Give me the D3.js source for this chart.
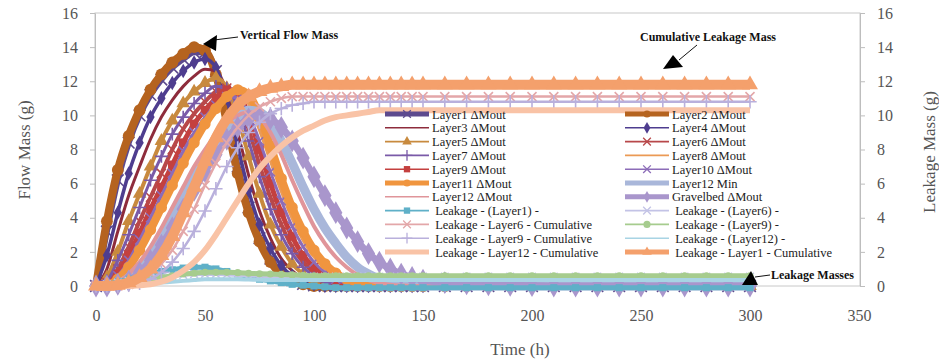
<!DOCTYPE html>
<html>
<head>
<meta charset="utf-8">
<script src="https://cdn.jsdelivr.net/npm/d3@7"></script>
<style>
  body { margin: 0; background: #fff; }
  svg { display: block; }
  text { font-family: "Liberation Serif", "Times New Roman", serif; }
</style>
</head>
<body>
<svg id="chart" width="939" height="362"></svg>
<script>
// time (h): 5 h steps to 150, then 10 h steps to 300
const hours = [0, 5, 10, 15, 20, 25, 30, 35, 40, 45, 50, 55, 60, 65, 70, 75, 80, 85, 90, 95, 100, 105, 110, 115, 120, 125, 130, 135, 140, 145, 150,
  160, 170, 180, 190, 200, 210, 220, 230, 240, 250, 260, 270, 280, 290, 300];

// vertical flow mass (g), left axis
const layer1 = [0, 3.2, 6.2, 8.4, 10.0, 11.2, 12.1, 12.8, 13.3, 13.7, 13.7, 12.6, 10.0, 7.0, 4.6, 2.8, 1.6, 0.8, 0.35, 0.12, 0.03, 0, 0, 0, 0, 0, 0, 0, 0, 0, 0,
  0, 0, 0, 0, 0, 0, 0, 0, 0, 0, 0, 0, 0, 0, 0];
const layer2 = [0, 3.8, 6.8, 8.8, 10.3, 11.5, 12.4, 13.1, 13.6, 14.0, 13.8, 12.4, 9.6, 6.6, 4.3, 2.6, 1.4, 0.7, 0.3, 0.1, 0, 0, 0, 0, 0, 0, 0, 0, 0, 0, 0,
  0, 0, 0, 0, 0, 0, 0, 0, 0, 0, 0, 0, 0, 0, 0];
const layer3 = [0, 1.0, 3.2, 5.3, 7.0, 8.6, 9.9, 10.9, 11.7, 12.3, 12.7, 12.6, 11.4, 9.0, 6.5, 4.4, 2.8, 1.6, 0.9, 0.4, 0.15, 0.05, 0, 0, 0, 0, 0, 0, 0, 0, 0,
  0, 0, 0, 0, 0, 0, 0, 0, 0, 0, 0, 0, 0, 0, 0];
const layer4 = [0, 1.8, 4.3, 6.6, 8.4, 9.9, 11.0, 11.9, 12.6, 13.1, 13.3, 12.8, 11.0, 8.2, 5.6, 3.6, 2.2, 1.2, 0.6, 0.25, 0.08, 0, 0, 0, 0, 0, 0, 0, 0, 0, 0,
  0, 0, 0, 0, 0, 0, 0, 0, 0, 0, 0, 0, 0, 0, 0];
const layer5 = [0, 0.5, 2.0, 3.8, 5.4, 7.0, 8.5, 9.7, 10.7, 11.4, 11.9, 12.2, 11.6, 9.9, 7.6, 5.4, 3.6, 2.3, 1.3, 0.7, 0.3, 0.1, 0.03, 0, 0, 0, 0, 0, 0, 0, 0,
  0, 0, 0, 0, 0, 0, 0, 0, 0, 0, 0, 0, 0, 0, 0];
const layer6 = [0, 0.2, 1.0, 2.3, 3.8, 5.2, 6.6, 8.0, 9.2, 10.1, 10.8, 11.4, 11.6, 10.9, 9.2, 7.1, 5.2, 3.6, 2.3, 1.4, 0.8, 0.4, 0.15, 0.05, 0, 0, 0, 0, 0, 0, 0,
  0, 0, 0, 0, 0, 0, 0, 0, 0, 0, 0, 0, 0, 0, 0];
const layer7 = [0, 0.3, 1.5, 3.0, 4.6, 6.2, 7.6, 8.9, 9.9, 10.7, 11.3, 11.7, 11.6, 10.5, 8.5, 6.4, 4.5, 3.0, 1.9, 1.1, 0.6, 0.25, 0.1, 0, 0, 0, 0, 0, 0, 0, 0,
  0, 0, 0, 0, 0, 0, 0, 0, 0, 0, 0, 0, 0, 0, 0];
const layer8 = [0, 0.1, 0.5, 1.3, 2.4, 3.6, 4.9, 6.2, 7.5, 8.7, 9.7, 10.6, 11.3, 11.5, 10.8, 9.3, 7.5, 5.7, 4.1, 2.8, 1.8, 1.1, 0.6, 0.3, 0.1, 0.03, 0, 0, 0, 0, 0,
  0, 0, 0, 0, 0, 0, 0, 0, 0, 0, 0, 0, 0, 0, 0];
const layer9 = [0, 0.1, 0.7, 1.8, 3.1, 4.5, 5.8, 7.1, 8.4, 9.5, 10.3, 11.0, 11.5, 11.3, 10.0, 8.0, 6.0, 4.3, 2.9, 1.8, 1.1, 0.6, 0.3, 0.1, 0.03, 0, 0, 0, 0, 0, 0,
  0, 0, 0, 0, 0, 0, 0, 0, 0, 0, 0, 0, 0, 0, 0];
const layer10 = [0, 0.1, 0.6, 1.5, 2.7, 4.0, 5.3, 6.6, 7.9, 9.0, 9.9, 10.6, 11.1, 11.0, 10.1, 8.5, 6.7, 5.0, 3.5, 2.3, 1.4, 0.8, 0.4, 0.15, 0.05, 0, 0, 0, 0, 0, 0,
  0, 0, 0, 0, 0, 0, 0, 0, 0, 0, 0, 0, 0, 0, 0];
const layer11 = [0, 0.05, 0.4, 1.1, 2.1, 3.3, 4.6, 5.9, 7.2, 8.4, 9.5, 10.4, 11.1, 11.5, 11.2, 10.0, 8.2, 6.3, 4.6, 3.2, 2.1, 1.3, 0.75, 0.4, 0.18, 0.07, 0, 0, 0, 0, 0,
  0, 0, 0, 0, 0, 0, 0, 0, 0, 0, 0, 0, 0, 0, 0];
const layer12Min = [0, 0, 0.1, 0.5, 1.1, 1.9, 2.9, 4.0, 5.2, 6.4, 7.5, 8.5, 9.3, 9.9, 10.3, 10.2, 9.6, 8.5, 7.2, 5.8, 4.5, 3.4, 2.5, 1.7, 1.1, 0.7, 0.4, 0.2, 0.1, 0.04, 0,
  0, 0, 0, 0, 0, 0, 0, 0, 0, 0, 0, 0, 0, 0, 0];
const layer12 = [0, 0, 0.2, 0.7, 1.4, 2.3, 3.4, 4.6, 5.8, 7.0, 8.0, 8.9, 9.6, 10.0, 10.2, 9.9, 9.0, 7.7, 6.2, 4.8, 3.5, 2.5, 1.7, 1.1, 0.65, 0.35, 0.18, 0.08, 0.03, 0, 0,
  0, 0, 0, 0, 0, 0, 0, 0, 0, 0, 0, 0, 0, 0, 0];
const gravelbed = [0, 0, 0.1, 0.3, 0.8, 1.5, 2.4, 3.4, 4.5, 5.6, 6.7, 7.7, 8.6, 9.3, 9.8, 10.0, 9.8, 9.3, 8.5, 7.5, 6.4, 5.3, 4.3, 3.4, 2.6, 1.9, 1.4, 1.0, 0.7, 0.5, 0.35,
  0.2, 0.12, 0.07, 0.04, 0.02, 0, 0, 0, 0, 0, 0, 0, 0, 0, 0];

// leakage mass (g), right axis
const leakL1 = [0, 0.1, 0.25, 0.4, 0.55, 0.7, 0.85, 0.95, 1.05, 1.1, 1.1, 1.0, 0.85, 0.7, 0.55, 0.4, 0.3, 0.2, 0.1, 0.05, 0, -0.05, -0.1, -0.1, -0.1, -0.1, -0.1, -0.1, -0.1, -0.1, -0.1,
  -0.1, -0.1, -0.1, -0.1, -0.1, -0.1, -0.1, -0.1, -0.1, -0.1, -0.1, -0.1, -0.1, -0.1, -0.1];
const leakL6 = [0, 0.1, 0.2, 0.3, 0.4, 0.5, 0.55, 0.6, 0.65, 0.7, 0.7, 0.7, 0.68, 0.65, 0.62, 0.6, 0.58, 0.56, 0.55, 0.55, 0.55, 0.55, 0.55, 0.55, 0.55, 0.55, 0.55, 0.55, 0.55, 0.55, 0.55,
  0.55, 0.55, 0.55, 0.55, 0.55, 0.55, 0.55, 0.55, 0.55, 0.55, 0.55, 0.55, 0.55, 0.55, 0.55];
const leakL6Cum = [0, 0, 0, 0.1, 0.3, 0.7, 1.3, 2.1, 3.2, 4.5, 5.9, 7.2, 8.4, 9.3, 10.0, 10.5, 10.8, 11.0, 11.1, 11.1, 11.1, 11.1, 11.1, 11.1, 11.1, 11.1, 11.1, 11.1, 11.1, 11.1, 11.1,
  11.1, 11.1, 11.1, 11.1, 11.1, 11.1, 11.1, 11.1, 11.1, 11.1, 11.1, 11.1, 11.1, 11.1, 11.1];
const leakL9 = [0, 0.05, 0.1, 0.2, 0.3, 0.4, 0.5, 0.6, 0.7, 0.75, 0.8, 0.8, 0.8, 0.78, 0.75, 0.72, 0.7, 0.68, 0.65, 0.62, 0.6, 0.6, 0.6, 0.6, 0.6, 0.6, 0.6, 0.6, 0.6, 0.6, 0.6,
  0.6, 0.6, 0.6, 0.6, 0.6, 0.6, 0.6, 0.6, 0.6, 0.6, 0.6, 0.6, 0.6, 0.6, 0.6];
const leakL9Cum = [0, 0, 0, 0.05, 0.15, 0.4, 0.8, 1.4, 2.2, 3.2, 4.4, 5.7, 7.0, 8.1, 9.0, 9.6, 10.1, 10.4, 10.6, 10.7, 10.8, 10.8, 10.8, 10.8, 10.8, 10.8, 10.8, 10.8, 10.8, 10.8, 10.8,
  10.8, 10.8, 10.8, 10.8, 10.8, 10.8, 10.8, 10.8, 10.8, 10.8, 10.8, 10.8, 10.8, 10.8, 10.8];
const leakL12 = [0, 0, 0, 0.05, 0.1, 0.15, 0.2, 0.25, 0.3, 0.35, 0.4, 0.4, 0.4, 0.4, 0.38, 0.36, 0.35, 0.35, 0.35, 0.35, 0.35, 0.35, 0.35, 0.35, 0.35, 0.35, 0.35, 0.35, 0.35, 0.35, 0.35,
  0.35, 0.35, 0.35, 0.35, 0.35, 0.35, 0.35, 0.35, 0.35, 0.35, 0.35, 0.35, 0.35, 0.35, 0.35];
const leakL12Cum = [0, 0, 0, 0, 0.05, 0.1, 0.25, 0.5, 0.9, 1.4, 2.1, 3.0, 4.0, 5.0, 6.0, 6.9, 7.6, 8.2, 8.7, 9.1, 9.4, 9.7, 9.9, 10.0, 10.1, 10.2, 10.3, 10.3, 10.3, 10.3, 10.3,
  10.3, 10.3, 10.3, 10.3, 10.3, 10.3, 10.3, 10.3, 10.3, 10.3, 10.3, 10.3, 10.3, 10.3, 10.3];
const leakL1Cum = [0, 0, 0.05, 0.2, 0.5, 1.0, 1.8, 2.9, 4.3, 5.8, 7.3, 8.7, 9.8, 10.6, 11.1, 11.4, 11.6, 11.7, 11.8, 11.8, 11.8, 11.8, 11.8, 11.8, 11.8, 11.8, 11.8, 11.8, 11.8, 11.8, 11.8,
  11.8, 11.8, 11.8, 11.8, 11.8, 11.8, 11.8, 11.8, 11.8, 11.8, 11.8, 11.8, 11.8, 11.8, 11.8];

const xTicks = [0, 50, 100, 150, 200, 250, 300, 350];
const yTicks = [0, 2, 4, 6, 8, 10, 12, 14, 16];

// series in legend order (row by row, two columns)
const series = [
  { name: 'Layer1 ΔMout', values: layer1, color: '#5d4a8e', width: 6, marker: 'times', size: 90, right: false },
  { name: 'Layer2 ΔMout', values: layer2, color: '#b5631f', width: 8, marker: 'circle', size: 110, right: false },
  { name: 'Layer3 ΔMout', values: layer3, color: '#8e2c3c', width: 3, marker: null, right: false },
  { name: 'Layer4 ΔMout', values: layer4, color: '#4e3d8f', width: 3.5, marker: 'diamond', size: 60, right: false },
  { name: 'Layer5 ΔMout', values: layer5, color: '#c88a3e', width: 4, marker: 'triangle', size: 80, right: false },
  { name: 'Layer6 ΔMout', values: layer6, color: '#b8484a', width: 4, marker: 'times', size: 55, right: false },
  { name: 'Layer7 ΔMout', values: layer7, color: '#7a5aa8', width: 3, marker: 'plus', size: 55, right: false },
  { name: 'Layer8 ΔMout', values: layer8, color: '#eb9a55', width: 5, marker: null, right: false },
  { name: 'Layer9 ΔMout', values: layer9, color: '#c4403f', width: 5, marker: 'square', size: 75, right: false },
  { name: 'Layer10 ΔMout', values: layer10, color: '#8c6cb8', width: 3, marker: 'times', size: 55, right: false },
  { name: 'Layer11 ΔMout', values: layer11, color: '#f0953f', width: 8, marker: 'circle', size: 100, right: false },
  { name: 'Layer12 Min', values: layer12Min, color: '#a9b7da', width: 9, marker: null, right: false },
  { name: 'Layer12 ΔMout', values: layer12, color: '#e0959a', width: 4, marker: null, right: false },
  { name: 'Gravelbed ΔMout', values: gravelbed, color: '#a996cc', width: 7, marker: 'diamond', size: 150, right: false },
  { name: ' Leakage - (Layer1) -', values: leakL1, color: '#5fb0c8', width: 5, marker: 'square', size: 50, right: true },
  { name: ' Leakage - (Layer6) -', values: leakL6, color: '#c3c3e6', width: 4, marker: 'times', size: 40, right: true },
  { name: ' Leakage - Layer6 - Cumulative', values: leakL6Cum, color: '#e3a7a9', width: 2.5, marker: 'times', size: 55, right: true },
  { name: ' Leakage - (Layer9) -', values: leakL9, color: '#a6cc8e', width: 5, marker: 'circle', size: 40, right: true },
  { name: ' Leakage - Layer9 - Cumulative', values: leakL9Cum, color: '#b9b0dc', width: 2.5, marker: 'plus', size: 60, right: true },
  { name: ' Leakage - (Layer12) -', values: leakL12, color: '#a8d4e4', width: 4, marker: null, right: true },
  { name: ' Leakage - Layer12 - Cumulative', values: leakL12Cum, color: '#f9c3a6', width: 6, marker: null, right: true },
  { name: ' Leakage - Layer1 - Cumulative', values: leakL1Cum, color: '#f4a06c', width: 10, marker: 'triangle', size: 110, right: true }
];

const symbolTypes = {
  circle: d3.symbolCircle, square: d3.symbolSquare, diamond: d3.symbolDiamond,
  triangle: d3.symbolTriangle, times: d3.symbolTimes, plus: d3.symbolPlus
};
const strokeSymbols = new Set(['times', 'plus']);

const svg = d3.select('#chart');

const x = d3.scaleLinear().domain([0, 350]).range([96, 859]);
const yLeft = d3.scaleLinear().domain([0, 16]).range([286, 13]);
const yRight = d3.scaleLinear().domain([0, 16]).range([286, 13]);

// plot frame
svg.append('rect')
  .attr('x', 95).attr('y', 13).attr('width', 765).attr('height', 273)
  .attr('fill', 'none').attr('stroke', '#c8c8c8').attr('stroke-width', 1);

// axes
const styleAxis = g => {
  g.select('.domain').attr('stroke', '#bdbdbd');
  g.selectAll('.tick line').attr('stroke', '#bdbdbd');
  g.selectAll('.tick text').attr('fill', '#555').style('font-size', '16px')
    .style('font-family', '"Liberation Serif", serif');
};

svg.append('g')
  .attr('transform', 'translate(95,0)')
  .call(d3.axisLeft(yLeft).tickValues(yTicks).tickSize(5).tickSizeOuter(0).tickPadding(12))
  .call(styleAxis);

svg.append('g')
  .attr('transform', 'translate(860,0)')
  .call(d3.axisRight(yRight).tickValues(yTicks).tickSize(5).tickSizeOuter(0).tickPadding(12))
  .call(styleAxis);

svg.append('g')
  .attr('transform', 'translate(0,286)')
  .call(d3.axisBottom(x).tickValues(xTicks).tickSize(0).tickSizeOuter(0).tickPadding(24))
  .call(styleAxis)
  .call(g => g.select('.domain').remove());

// axis titles
svg.append('text')
  .attr('transform', 'translate(30,150) rotate(-90)')
  .attr('text-anchor', 'middle').attr('fill', '#555').style('font-size', '17px')
  .text('Flow Mass (g)');
svg.append('text')
  .attr('transform', 'translate(935,152) rotate(-90)')
  .attr('text-anchor', 'middle').attr('fill', '#555').style('font-size', '17px')
  .text('Leakage Mass (g)');
svg.append('text')
  .attr('x', 520).attr('y', 355)
  .attr('text-anchor', 'middle').attr('fill', '#555').style('font-size', '17px')
  .text('Time (h)');

// series
const plot = svg.append('g');
series.forEach(s => {
  const yScale = s.right ? yRight : yLeft;
  const pts = hours.map((h, i) => [h, s.values[i]]);
  const line = d3.line().x(d => x(d[0])).y(d => yScale(d[1])).curve(d3.curveMonotoneX);
  plot.append('path')
    .attr('d', line(pts))
    .attr('fill', 'none')
    .attr('stroke', s.color)
    .attr('stroke-width', s.width)
    .attr('stroke-linejoin', 'round');
  if (s.marker) {
    const sym = d3.symbol(symbolTypes[s.marker], s.size);
    const stroke = strokeSymbols.has(s.marker);
    plot.append('g').selectAll('path')
      .data(pts)
      .join('path')
      .attr('transform', d => `translate(${x(d[0])},${yScale(d[1])})`)
      .attr('d', sym)
      .attr('fill', stroke ? 'none' : s.color)
      .attr('stroke', stroke ? s.color : 'none')
      .attr('stroke-width', stroke ? 1.6 : 0);
  }
});

// legend
const legend = svg.append('g');
series.forEach((s, i) => {
  const row = Math.floor(i / 2);
  const col = i % 2;
  const lx = col ? 625 : 385;
  const ly = 114 + row * 13.8;
  const g = legend.append('g');
  g.append('line')
    .attr('x1', lx).attr('x2', lx + 44).attr('y1', ly).attr('y2', ly)
    .attr('stroke', s.color).attr('stroke-width', s.width >= 6 ? 5 : 1.6);
  if (s.marker) {
    const stroke = strokeSymbols.has(s.marker);
    g.append('path')
      .attr('transform', `translate(${lx + 22},${ly})`)
      .attr('d', d3.symbol(symbolTypes[s.marker], 40))
      .attr('fill', stroke ? 'none' : s.color)
      .attr('stroke', stroke ? s.color : 'none')
      .attr('stroke-width', stroke ? 1.3 : 0);
  }
  g.append('text')
    .attr('x', lx + 47).attr('y', ly + 4.5)
    .attr('fill', '#222').style('font-size', '12.5px')
    .attr('xml:space', 'preserve')
    .text(s.name);
});

// annotations
const ann = svg.append('g');
const annText = (tx, ty, str) => ann.append('text')
  .attr('x', tx).attr('y', ty).attr('fill', '#111')
  .style('font-size', '12px').style('font-weight', 'bold').text(str);

annText(240, 39, 'Vertical Flow Mass');
ann.append('line').attr('x1', 214).attr('y1', 40).attr('x2', 238).attr('y2', 37).attr('stroke', '#111').attr('stroke-width', 1);
ann.append('path').attr('d', 'M203,44 L217,35 L216,51 Z').attr('fill', '#000');

annText(640, 41, 'Cumulative Leakage Mass');
ann.append('line').attr('x1', 697).attr('y1', 45).attr('x2', 679).attr('y2', 60).attr('stroke', '#111').attr('stroke-width', 1);
ann.append('path').attr('d', 'M663,69 L683,67 L673,55 Z').attr('fill', '#000');

annText(771, 279, 'Leakage Masses');
ann.append('line').attr('x1', 755).attr('y1', 277).attr('x2', 770).attr('y2', 275).attr('stroke', '#111').attr('stroke-width', 1);
ann.append('path').attr('d', 'M742,285 L758,285 L751,271 Z').attr('fill', '#000');
</script>
</body>
</html>
